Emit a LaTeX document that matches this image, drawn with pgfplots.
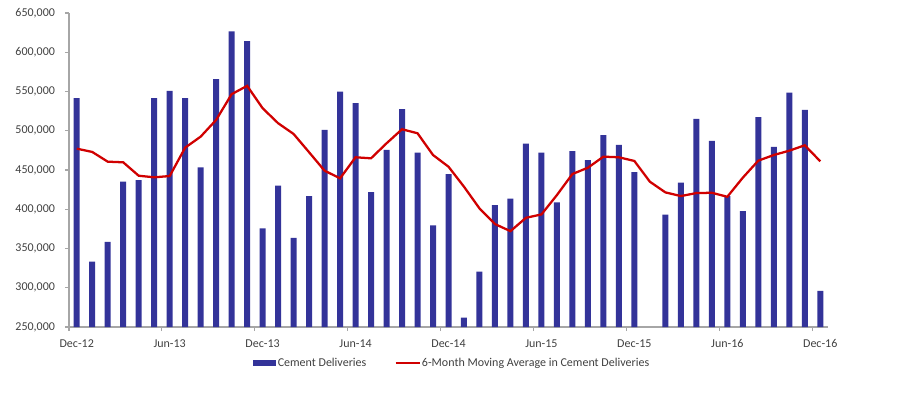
\documentclass[border=0pt]{standalone}
\usepackage{pgfplots}
\pgfplotsset{compat=1.18}
\usepackage{fontspec}
\setmainfont{Carlito}
\definecolor{barblue}{RGB}{51,51,153}
\definecolor{avgred}{RGB}{208,0,0}
\definecolor{txtgray}{RGB}{64,64,64}
\definecolor{axgray}{RGB}{166,166,166}
\begin{document}
\begin{tikzpicture}
\useasboundingbox (0,0) rectangle (675pt,300pt);
\begin{axis}[
  at={(51.75pt,54.75pt)}, anchor=south west,
  scale only axis, width=569.25pt, height=235.5pt,
  xmin=-0.5, xmax=48.5, ymin=250000, ymax=650000,
  axis x line*=bottom, axis y line*=left,
  axis line style={draw=axgray, line width=0.8pt, -},
  tick align=outside, major tick length=3pt,
  tick style={draw=axgray, line width=0.8pt},
  xtick={-0.5,5.5,11.5,17.5,23.5,29.5,35.5,41.5,47.5},
  xticklabels={Dec-12,Jun-13,Dec-13,Jun-14,Dec-14,Jun-15,Dec-15,Jun-16,Dec-16},
  xticklabel style={xshift=5.81pt, yshift=-3pt},
  ytick={250000,300000,...,650000},
  scaled y ticks=false,
  yticklabel style={xshift=-4pt},
  /pgf/number format/.cd, fixed, 1000 sep={,}, assume math mode=true,
  /pgfplots/.cd,
  tick label style={font=\fontsize{9}{11}\selectfont, text=txtgray},
  legend style={at={(0.5046,-0.1146)}, anchor=center, draw=none, fill=none,
    legend columns=2, font=\fontsize{9}{11}\selectfont, text=txtgray,
    /tikz/every even column/.append style={column sep=20pt},
    nodes={inner sep=1pt}},
  legend cell align=left,
]
\addplot[ybar, bar width=4.5pt, fill=barblue, draw=none,
  legend image code/.code={\fill[barblue] (0pt,-2.5pt) rectangle (17.25pt,2.5pt);}]
coordinates {
(0,541500) (1,333400) (2,358500) (3,435100) (4,437200) (5,541500)
(6,550800) (7,541500) (8,453400) (9,565700) (10,626500) (11,614200)
(12,375600) (13,430000) (14,363600) (15,416800) (16,501000) (17,550000)
(18,535100) (19,421900) (20,475500) (21,527400) (22,472100) (23,379400)
(24,444900) (25,262000) (26,320700) (27,405300) (28,413400) (29,483600)
(30,472100) (31,408800) (32,473900) (33,462700) (34,494300) (35,481900)
(36,447400) (38,393000) (39,433800) (40,515100) (41,487000)
(42,416800) (43,397700) (44,517200) (45,479400) (46,548700) (47,526600)
(48,295900)
};
\addlegendentry{Cement Deliveries}
\addplot[avgred, line width=1.7pt, mark=none,
  legend image code/.code={\draw[avgred, line width=1.7pt] (0pt,0pt) -- (18pt,0pt);}]
coordinates {
(0,477200) (1,473000) (2,460600) (3,459800) (4,442700) (5,440700)
(6,442300) (7,478500) (8,492500) (9,513800) (10,546600) (11,557200)
(12,528700) (13,509600) (14,495900) (15,472600) (16,449100) (17,439400)
(18,466200) (19,464900) (20,484000) (21,501900) (22,496800) (23,469100)
(24,454200) (25,428700) (26,401100) (27,381100) (28,372100) (29,389100)
(30,393400) (31,418100) (32,444900) (33,452900) (34,467000) (35,466200)
(36,461500) (37,435100) (38,421500) (39,416800) (40,420600) (41,421000)
(42,415900) (43,440200) (44,461900) (45,469100) (46,474600) (47,481500)
(48,461100)
};
\addlegendentry{6-Month Moving Average in Cement Deliveries}
\end{axis}
\end{tikzpicture}
\end{document}
